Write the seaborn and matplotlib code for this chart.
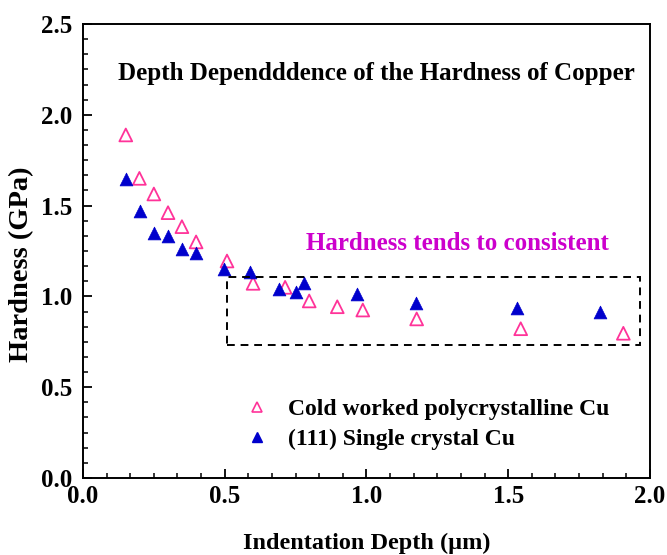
import matplotlib
matplotlib.use("Agg")
import matplotlib.pyplot as plt
from matplotlib.ticker import MultipleLocator, AutoMinorLocator
from matplotlib.patches import Rectangle
from matplotlib.lines import Line2D
import seaborn as sns
import pandas as pd

# Indentation depth (um) and hardness (GPa)
poly_depth = [0.151, 0.199, 0.250, 0.300, 0.349, 0.399, 0.508, 0.600,
              0.713, 0.798, 0.897, 0.987, 1.177, 1.544, 1.906]
poly_hard = [1.889, 1.650, 1.564, 1.461, 1.384, 1.300, 1.195, 1.072,
             1.050, 0.975, 0.943, 0.925, 0.876, 0.822, 0.797]

single_depth = [0.151, 0.201, 0.250, 0.300, 0.349, 0.399, 0.498, 0.590,
                0.691, 0.750, 0.780, 0.965, 1.175, 1.532, 1.824]
single_hard = [1.646, 1.470, 1.351, 1.333, 1.259, 1.241, 1.149, 1.136,
               1.041, 1.022, 1.072, 1.011, 0.962, 0.934, 0.912]

series_names = ["Cold worked polycrystalline Cu", "(111) Single crystal Cu"]
title_text = "Depth Dependddence of the Hardness of Copper"
note_text = "Hardness tends to consistent"

PINK = "#FF3399"
BLUE = "#0000CC"
MAGENTA = "#CC00CC"

sns.set_theme(style="ticks")
plt.rcParams["font.family"] = ["Liberation Serif", "DejaVu Serif"]
plt.rcParams["font.weight"] = "bold"
plt.rcParams["axes.labelweight"] = "bold"
for key in ["text.color", "axes.labelcolor", "xtick.color", "ytick.color",
            "xtick.labelcolor", "ytick.labelcolor", "axes.edgecolor"]:
    plt.rcParams[key] = "black"

fig = plt.figure(figsize=(6.67, 5.55), dpi=100)
ax = fig.add_axes([0.1244, 0.1387, 0.8501, 0.8181])

poly = pd.DataFrame({"depth": poly_depth, "hardness": poly_hard})
single = pd.DataFrame({"depth": single_depth, "hardness": single_hard})

sns.scatterplot(data=poly, x="depth", y="hardness", ax=ax, marker="^", s=85,
                facecolor="none", edgecolor=PINK, linewidth=1.3, legend=False)
sns.scatterplot(data=single, x="depth", y="hardness", ax=ax, marker="^", s=85,
                color=BLUE, edgecolor=BLUE, linewidth=0.5, legend=False)

# dashed box around the plateau region
ax.add_patch(Rectangle((0.508, 0.732), 1.965 - 0.508, 1.109 - 0.732,
                       fill=False, ls=(0, (4, 3)), lw=1.4, ec="black"))

ax.set_xlim(0, 2.0)
ax.set_ylim(0, 2.5)
ax.xaxis.set_major_locator(MultipleLocator(0.5))
ax.yaxis.set_major_locator(MultipleLocator(0.5))
ax.xaxis.set_minor_locator(AutoMinorLocator(6))
ax.yaxis.set_minor_locator(AutoMinorLocator(6))
ax.tick_params(which="major", direction="in", length=6.5, width=1.3,
               labelsize=18, pad=5, colors="black")
ax.tick_params(which="minor", direction="in", length=3.5, width=1.1, colors="black")
ax.tick_params(axis="y", which="major", pad=8)
for lab in ax.get_xticklabels() + ax.get_yticklabels():
    lab.set_fontweight("bold")
for sp in ax.spines.values():
    sp.set_linewidth(1.4)
    sp.set_color("black")

ax.set_xlabel("Indentation Depth (\u00b5m)", fontsize=17.5, fontweight="bold",
              labelpad=18, color="black")
ax.set_ylabel("Hardness (GPa)", fontsize=20.5, fontweight="bold", color="black")
ax.yaxis.label.set_verticalalignment("center")
ax.yaxis.set_label_coords(-0.108, 0.47)

ax.text(0.123, 2.23, title_text, fontsize=18, fontweight="bold",
        va="center", ha="left", color="black")
ax.text(0.787, 1.29, note_text, fontsize=18, fontweight="bold",
        va="center", ha="left", color=MAGENTA)

handles = [
    Line2D([], [], ls="none", marker="^", ms=7.5, mfc="none", mec=PINK, mew=1.2),
    Line2D([], [], ls="none", marker="^", ms=7.5, mfc=BLUE, mec=BLUE),
]
ax.legend(handles, series_names, loc="upper left", bbox_to_anchor=(0.268, 0.196),
          frameon=False, prop={"family": "Liberation Serif", "weight": "bold", "size": 17},
          handletextpad=0.75, labelspacing=0.35, handlelength=1.1,
          borderaxespad=0)

fig.savefig("out.png", dpi=100)
